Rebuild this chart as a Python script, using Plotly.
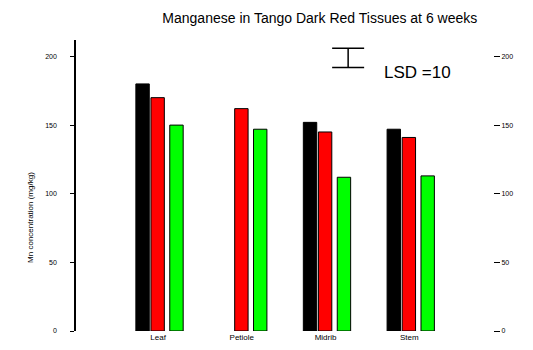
import plotly.graph_objects as go

# ── Data ──────────────────────────────────────────────────────────────────────
tissues = ["Leaf", "Petiole", "Midrib", "Stem"]
x_pos = [0, 1, 2, 3]
series_names = ["Mn 0", "Mn 1", "Mn 2"]
black_vals = [180, None, 152, 147]
red_vals = [170, 162, 145, 141]
green_vals = [150, 147, 112, 113]
lsd = 10
y_ticks = [0, 50, 100, 150, 200]

BLACK = "#000000"
RED = "#ff0000"
GREEN = "#00ff00"

fig = go.Figure()

bar_w = 0.16
for name, vals, colour, off in [
    (series_names[0], black_vals, BLACK, -0.265),
    (series_names[1], red_vals, RED, -0.085),
    (series_names[2], green_vals, GREEN, 0.14),
]:
    fig.add_trace(go.Bar(
        x=x_pos, y=vals, name=name,
        width=bar_w, offset=off,
        marker=dict(color=colour, line=dict(color=BLACK, width=1)),
        showlegend=False,
    ))

# LSD indicator
fig.add_trace(go.Scatter(
    x=[2.27], y=[199], mode="markers",
    marker=dict(size=1, color="rgba(0,0,0,0)"),
    error_y=dict(type="data", array=[7], symmetric=True,
                 color=BLACK, thickness=1.5, width=16),
    showlegend=False, hoverinfo="skip",
))
# invisible trace to activate right axis
fig.add_trace(go.Scatter(x=[None], y=[None], yaxis="y2", showlegend=False))

fig.add_annotation(text=f"LSD ={lsd}", xref="paper", yref="paper",
                   x=0.735, y=0.89, xanchor="left", yanchor="middle",
                   showarrow=False, font=dict(size=17, color=BLACK,
                                              family="Liberation Sans, Arial"))
fig.add_annotation(text="Mn concentration (mg/kg)", xref="paper", yref="paper",
                   x=-0.125, y=0.39, textangle=-90, showarrow=False,
                   font=dict(size=8, color=BLACK))

fig.update_layout(
    width=533, height=350,
    margin=dict(l=68, r=48, t=32, b=27),
    paper_bgcolor="white", plot_bgcolor="white",
    font=dict(family="Liberation Sans, Arial", color=BLACK),
    title=dict(text="Manganese in Tango Dark Red Tissues at 6 weeks",
               x=0.585, xanchor="center", y=0.972, yanchor="middle",
               font=dict(size=14, color=BLACK)),
    xaxis=dict(range=[-0.98, 4.0], tickvals=x_pos, ticktext=tissues,
               showgrid=False, zeroline=False, showline=False, ticks="",
               tickfont=dict(size=8, color=BLACK)),
    yaxis=dict(range=[0, 212], tickvals=y_ticks, showgrid=False,
               zeroline=False, showline=True, linecolor=BLACK, linewidth=1.5,
               ticks="outside", ticklen=4, tickcolor=BLACK,
               ticklabelstandoff=12, tickfont=dict(size=7, color=BLACK)),
    yaxis2=dict(range=[0, 212], tickvals=y_ticks, overlaying="y", side="right",
                showgrid=False, zeroline=False, showline=False,
                ticks="outside", ticklen=6, tickcolor=BLACK,
                tickfont=dict(size=7, color=BLACK)),
)

fig.write_html("out.html")
